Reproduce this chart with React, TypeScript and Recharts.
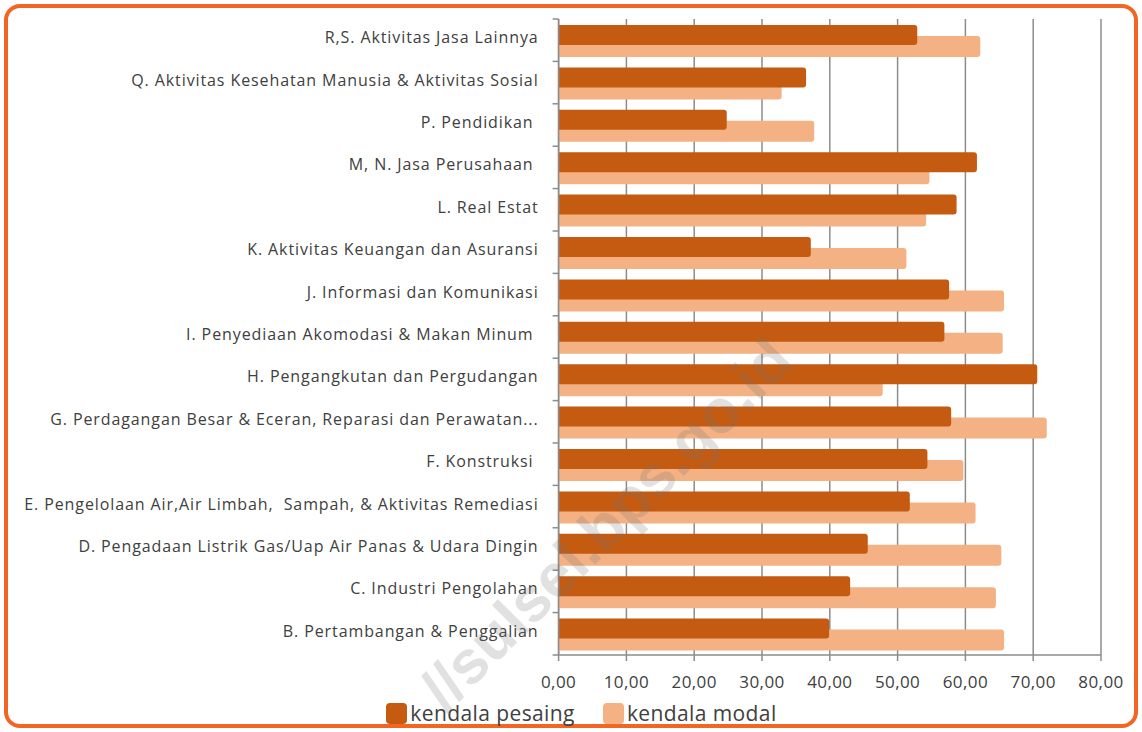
import React from 'react';
import { BarChart, Bar, XAxis, YAxis, CartesianGrid, Legend } from 'recharts';

const categories = [
  'R,S. Aktivitas Jasa Lainnya',
  'Q. Aktivitas Kesehatan Manusia & Aktivitas Sosial',
  'P. Pendidikan ',
  'M, N. Jasa Perusahaan ',
  'L. Real Estat',
  'K. Aktivitas Keuangan dan Asuransi',
  'J. Informasi dan Komunikasi',
  'I. Penyediaan Akomodasi & Makan Minum ',
  'H. Pengangkutan dan Pergudangan',
  'G. Perdagangan Besar & Eceran, Reparasi dan Perawatan...',
  'F. Konstruksi ',
  'E. Pengelolaan Air,Air Limbah,  Sampah, & Aktivitas Remediasi',
  'D. Pengadaan Listrik Gas/Uap Air Panas & Udara Dingin',
  'C. Industri Pengolahan',
  'B. Pertambangan & Penggalian',
];
const kendalaPesaing = [52.9, 36.5, 24.8, 61.7, 58.7, 37.2, 57.6, 56.9, 70.6, 57.9, 54.4, 51.8, 45.6, 43.0, 39.9];
const kendalaModal = [62.2, 32.9, 37.7, 54.7, 54.2, 51.3, 65.7, 65.5, 47.8, 72.0, 59.7, 61.5, 65.3, 64.5, 65.7];
const xTicks = [0, 10, 20, 30, 40, 50, 60, 70, 80];
const seriesNames = { pesaing: 'kendala pesaing', modal: 'kendala modal' };

const data = categories.map((name, i) => ({ name, pesaing: kendalaPesaing[i], modal: kendalaModal[i] }));

const PESAING = '#C55A11';
const MODAL = '#F4B183';
const AXIS = '#8c8c8c';
const FONT = '"Open Sans", "Liberation Sans", sans-serif';
const Y_TICK_MARGIN = 14;
const Y_TICK_SIZE = 6;

const CatTick = (props: any) => {
  const { x, y, payload, height, visibleTicksCount, index } = props;
  const count = visibleTicksCount || categories.length;
  const half = payload?.offset || (height ? height / count / 2 : 0);
  const lx1 = x + Y_TICK_MARGIN;
  const lx2 = x + Y_TICK_MARGIN + Y_TICK_SIZE;
  const isLast = (payload?.index ?? index) === categories.length - 1;
  return (
    <g>
      {half > 0 && <line x1={lx1} x2={lx2} y1={y - half} y2={y - half} stroke={AXIS} strokeWidth={1.5} />}
      {half > 0 && isLast && <line x1={lx1} x2={lx2} y1={y + half} y2={y + half} stroke={AXIS} strokeWidth={1.5} />}
      <text x={x} y={y} dy={3} textAnchor="end" fill="#404040" fontSize={16} letterSpacing={0.9} fontFamily={FONT} style={{ whiteSpace: 'pre' }} xmlSpace="preserve">
        {payload.value}
      </text>
    </g>
  );
};

const LegendContent = () => (
  <div style={{ display: 'flex', justifyContent: 'center', alignItems: 'center', height: 30, paddingLeft: 62, fontFamily: FONT, fontSize: 21, letterSpacing: 0.4, color: '#404040' }}>
    <div style={{ display: 'flex', alignItems: 'center', marginRight: 28 }}>
      <span style={{ width: 21, height: 21, background: PESAING, borderRadius: 4, display: 'inline-block', marginRight: 3 }} />
      <span>{seriesNames.pesaing}</span>
    </div>
    <div style={{ display: 'flex', alignItems: 'center' }}>
      <span style={{ width: 21, height: 21, background: MODAL, borderRadius: 4, display: 'inline-block', marginRight: 3 }} />
      <span>{seriesNames.modal}</span>
    </div>
  </div>
);

export default function App() {
  return (
    <div style={{ position: 'absolute', left: 0, top: 0, width: 1142, height: 732, background: '#fff', overflow: 'hidden' }}>
      <div style={{ position: 'absolute', left: 4, top: 4, width: 1126, height: 716, border: '4px solid #F26522', borderRadius: 16 }} />
      <div style={{ position: 'absolute', left: 0, top: 0 }}>
        <BarChart
          width={1142}
          height={732}
          data={data}
          layout="vertical"
          barGap={-32}
          margin={{ top: 19, right: 41, bottom: 4, left: 0 }}
        >
          <CartesianGrid horizontal={false} vertical stroke={AXIS} strokeWidth={1.5} />
          <XAxis
            type="number"
            domain={[0, 80]}
            ticks={xTicks}
            interval={0}
            height={43}
            tickFormatter={(v: number) => v.toFixed(2).replace('.', ',')}
            tick={{ fill: '#404040', fontSize: 17, fontFamily: FONT, letterSpacing: 0.4 }}
            axisLine={{ stroke: AXIS, strokeWidth: 1.5 }}
            tickLine={{ stroke: AXIS, strokeWidth: 1.5 }}
            tickSize={6}
            tickMargin={15}
          />
          <YAxis
            type="category"
            dataKey="name"
            width={558.6}
            interval={0}
            tick={<CatTick />}
            axisLine={{ stroke: AXIS, strokeWidth: 1.5 }}
            tickLine={false}
            tickSize={Y_TICK_SIZE}
            tickMargin={Y_TICK_MARGIN}
          />
          <Legend verticalAlign="bottom" height={30} content={<LegendContent />} />
          <Bar dataKey="modal" name={seriesNames.modal} fill={MODAL} barSize={21} radius={[0, 3, 3, 0]} isAnimationActive={false} />
          <Bar dataKey="pesaing" name={seriesNames.pesaing} fill={PESAING} barSize={20} radius={[0, 3, 3, 0]} isAnimationActive={false} />
        </BarChart>
      </div>
      <div
        style={{
          position: 'absolute',
          left: 606,
          top: 524,
          transform: 'translate(-50%, -50%) rotate(-45deg)',
          fontFamily: '"Liberation Sans", Arial, sans-serif',
          fontWeight: 'bold',
          fontSize: 61,
          color: 'rgba(120,120,120,0.22)',
          whiteSpace: 'nowrap',
          pointerEvents: 'none',
        }}
      >
        //sulsel.bps.go.id
      </div>
    </div>
  );
}
